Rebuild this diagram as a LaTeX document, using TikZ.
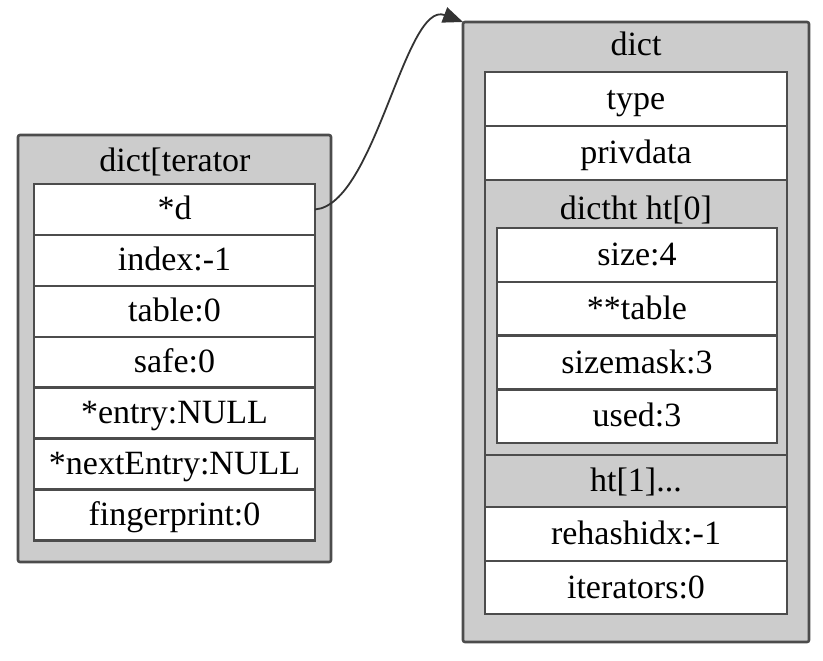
\documentclass[tikz,border=0pt]{standalone}
\usepackage{fontspec}
\setmainfont{Liberation Serif}
\usetikzlibrary{arrows.meta,positioning}

\begin{document}
\begin{tikzpicture}[
  x=0.5pt, y=-0.5pt,
  node distance=0pt,
  every node/.style={font=\fontsize{17}{20}\selectfont, inner sep=0pt, outer sep=0pt,
    text height=13.5pt, text depth=3pt},
  frame/.style={draw=black!70, line width=1.3pt, fill=gray!40, rounded corners=1pt},
  cell/.style={draw=black!70, line width=1.2pt, fill=white},
  lrow/.style={cell, minimum width=140.5pt, minimum height=25.45pt},
  rrow/.style={cell, minimum width=151pt, minimum height=27pt},
  hrow/.style={cell, minimum width=140pt, minimum height=26.9pt},
  grayrow/.style={rrow, fill=gray!40},
  arr/.style={-{Triangle[length=10pt,width=8pt]}, line width=0.9pt, draw=black!80},
]
\useasboundingbox (0,0) rectangle (823,660);

% dictIterator
\node[frame, minimum width=156.5pt, minimum height=213.5pt, anchor=north west] (iter) at (18,135) {};
\node (itertitle) at (175,161) {dict[terator};
\node[lrow, anchor=north west] (dptr) at (34,184) {*d};
\node[lrow, below=of dptr] (index) {index:-1};
\node[lrow, below=of index] (table) {table:0};
\node[lrow, below=of table] (safe) {safe:0};
\node[lrow, below=of safe] (entry) {*entry:NULL};
\node[lrow, below=of entry] (next) {*nextEntry:NULL};
\node[lrow, below=of next] (finger) {fingerprint:0};

% dict
\node[frame, minimum width=173pt, minimum height=310pt, anchor=north west] (dict) at (463,22) {};
\node (dicttitle) at (636,45) {dict};
\node[rrow, anchor=north west] (type) at (485,72) {type};
\node[rrow, below=of type] (priv) {privdata};
\node[grayrow, minimum height=137.5pt, below=of priv] (ht0) {};
\node (ht0title) at (636,209) {dictht ht[0]};
\node[hrow, anchor=north] (size) at (637,228) {size:4};
\node[hrow, below=of size] (htable) {**table};
\node[hrow, below=of htable] (mask) {sizemask:3};
\node[hrow, below=of mask] (used) {used:3};
\node[grayrow, minimum height=26pt, below=of ht0] (ht1) {ht[1]...};
\node[rrow, below=of ht1] (rehash) {rehashidx:-1};
\node[rrow, minimum height=26.5pt, below=of rehash] (iters) {iterators:0};

\draw[arr] (dptr.east) .. controls (375,205) and (405,0) .. (dict.north west);
\end{tikzpicture}
\end{document}
